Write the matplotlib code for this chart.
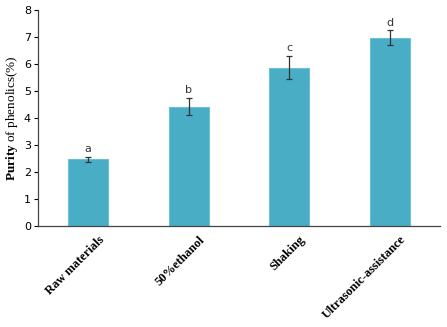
import matplotlib.pyplot as plt
from matplotlib.transforms import ScaledTranslation

# Data
groups = ["Raw materials", "50%ethanol", "Shaking", "Ultrasonic-assistance"]
purity = [2.47, 4.42, 5.87, 6.98]
errors = [0.10, 0.32, 0.42, 0.27]
letters = ["a", "b", "c", "d"]

plt.rcParams["mathtext.fontset"] = "custom"
plt.rcParams["mathtext.bf"] = "Liberation Serif:bold"
plt.rcParams["mathtext.rm"] = "Liberation Serif"

fig = plt.figure(figsize=(4.47, 3.27), dpi=100)
ax = fig.add_axes([38 / 447, 101 / 327, 402 / 447, 216 / 327])

x = list(range(len(groups)))
ax.bar(x, purity, width=0.4, color="#4AADC6", edgecolor="#6CC0D4", linewidth=0.8)
ax.errorbar(x, purity, yerr=errors, fmt="none", ecolor="#333333",
            elinewidth=0.9, capsize=2.5, capthick=0.9)

for xi, v, e, t in zip(x, purity, errors, letters):
    ax.text(xi, v + e + 0.1, t, ha="center", va="bottom", fontsize=8,
            color="#333333", family="DejaVu Sans")

ax.set_xlim(-0.5, 3.5)
ax.set_ylim(0, 8)
ax.set_yticks(range(0, 9))
ax.tick_params(axis="y", labelsize=8, length=3, width=0.8, pad=2)
ax.tick_params(axis="x", length=0, pad=4)
ax.set_xticks(x)
ax.set_xticklabels(groups, rotation=45, ha="right", rotation_mode="anchor",
                   family="Liberation Serif", fontweight="bold", fontsize=9)
shift = ScaledTranslation(10 / 100, -2 / 100, fig.dpi_scale_trans)
for lab in ax.get_xticklabels():
    lab.set_transform(lab.get_transform() + shift)
for s in ["top", "right"]:
    ax.spines[s].set_visible(False)
for s in ["left", "bottom"]:
    ax.spines[s].set_color("#444444")
    ax.spines[s].set_linewidth(0.9)

ax.set_ylabel(r"$\mathbf{Purity}$ of phenolics(%)", family="Liberation Serif",
              fontsize=9.5, labelpad=3)

fig.savefig("out.png", dpi=100)
